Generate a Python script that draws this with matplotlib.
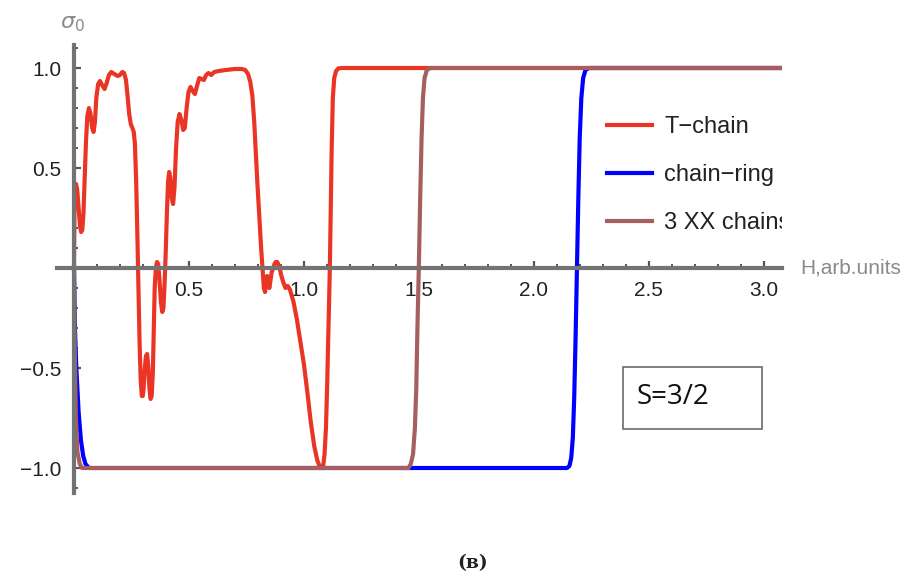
import matplotlib
matplotlib.use("Agg")
import matplotlib.pyplot as plt
from matplotlib.patches import Rectangle
from matplotlib.ticker import FixedLocator, MultipleLocator

# ---- data: field H (arb. units) and sigma_0 for each system ----
t_chain_h = [0.0, 0.002, 0.005, 0.009, 0.014, 0.02, 0.026, 0.031, 0.036, 0.041, 0.046,
             0.052, 0.058, 0.065, 0.072, 0.079, 0.085, 0.091, 0.097, 0.105, 0.113,
             0.122, 0.133, 0.142, 0.152, 0.162, 0.175, 0.19, 0.2, 0.21, 0.218, 0.226,
             0.233, 0.24, 0.247, 0.254, 0.26, 0.265, 0.27, 0.275, 0.28, 0.285, 0.29,
             0.295, 0.299, 0.303, 0.308, 0.313, 0.318, 0.323, 0.328, 0.333, 0.338,
             0.343, 0.347, 0.351, 0.356, 0.361, 0.366, 0.372, 0.378, 0.384, 0.389,
             0.394, 0.399, 0.404, 0.409, 0.414, 0.419, 0.425, 0.431, 0.437, 0.444,
             0.451, 0.459, 0.467, 0.475, 0.482, 0.49, 0.498, 0.507, 0.516, 0.526,
             0.535, 0.545, 0.555, 0.565, 0.575, 0.585, 0.597, 0.61, 0.63, 0.66, 0.7,
             0.73, 0.745, 0.757, 0.767, 0.776, 0.784, 0.791, 0.798, 0.806, 0.814,
             0.821, 0.826, 0.831, 0.836, 0.84, 0.845, 0.85, 0.855, 0.86, 0.866, 0.872,
             0.878, 0.884, 0.89, 0.895, 0.9, 0.91, 0.92, 0.93, 0.94, 0.955, 0.97,
             0.985, 1.0, 1.015, 1.03, 1.045, 1.058, 1.068, 1.077, 1.084, 1.09, 1.096,
             1.101, 1.105, 1.109, 1.113, 1.117, 1.121, 1.126, 1.132, 1.14, 1.15, 1.165,
             3.1]
t_chain_s = [0.0, 0.3, 0.41, 0.42, 0.39, 0.3, 0.21, 0.18, 0.19, 0.27, 0.43,
             0.63, 0.76, 0.8, 0.77, 0.7, 0.68, 0.73, 0.85, 0.92, 0.935,
             0.915, 0.895, 0.925, 0.965, 0.98, 0.97, 0.96, 0.965, 0.98, 0.975, 0.94,
             0.86, 0.77, 0.72, 0.7, 0.68, 0.62, 0.45, 0.2, -0.08, -0.36, -0.56,
             -0.64, -0.64, -0.6, -0.5, -0.44, -0.43, -0.49, -0.6, -0.655, -0.64,
             -0.52, -0.3, -0.1, 0.0, 0.03, 0.02, -0.06, -0.17, -0.22, -0.2,
             -0.08, 0.08, 0.27, 0.43, 0.48, 0.45, 0.35, 0.32, 0.4, 0.6,
             0.73, 0.77, 0.74, 0.69, 0.7, 0.8, 0.88, 0.905, 0.885, 0.87,
             0.91, 0.95, 0.945, 0.94, 0.965, 0.975, 0.965, 0.98, 0.985, 0.99, 0.995,
             0.995, 0.99, 0.97, 0.93, 0.86, 0.73, 0.57, 0.42, 0.26, 0.1,
             -0.02, -0.1, -0.12, -0.07, -0.04, -0.08, -0.1, -0.06, -0.02, -0.005, 0.02,
             0.03, 0.03, 0.015, 0.0, -0.03, -0.07, -0.1, -0.09, -0.11, -0.17, -0.26,
             -0.37, -0.48, -0.62, -0.77, -0.89, -0.96, -0.99, -1.0, -0.99, -0.93, -0.8,
             -0.6, -0.4, -0.2, 0.0, 0.3, 0.6, 0.85, 0.95, 0.985, 0.998, 1.0,
             1.0]

chain_ring_h = [0.0, 0.004, 0.01, 0.02, 0.03, 0.04, 0.05, 0.065, 2.145, 2.155, 2.163,
                2.17, 2.176, 2.182, 2.188, 2.194, 2.2, 2.207, 2.215, 2.225, 2.24, 3.1]
chain_ring_s = [0.0, -0.3, -0.5, -0.72, -0.86, -0.94, -0.98, -1.0, -1.0, -0.99, -0.95,
                -0.85, -0.65, -0.35, 0.0, 0.35, 0.65, 0.85, 0.95, 0.99, 1.0, 1.0]

xx3_h = [0.0, 0.003, 0.008, 0.015, 0.025, 0.035, 1.455, 1.465, 1.475, 1.483, 1.489,
         1.494, 1.5, 1.506, 1.512, 1.518, 1.525, 1.535, 1.55, 3.1]
xx3_s = [0.0, -0.4, -0.75, -0.92, -0.98, -1.0, -1.0, -0.98, -0.93, -0.8, -0.6,
         -0.3, 0.0, 0.35, 0.65, 0.85, 0.95, 0.99, 1.0, 1.0]

series_labels = ["T\u2212chain", "chain\u2212ring", "3 XX chains"]
series_colors = ["#EA3526", "#0000FF", "#A65F5F"]

x_ticks = [0.5, 1.0, 1.5, 2.0, 2.5, 3.0]
y_ticks = [-1.0, -0.5, 0.5, 1.0]

# ---- figure ----
plt.rcParams["font.family"] = ["Liberation Sans", "DejaVu Sans"]
axis_gray = "#737373"

fig = plt.figure(figsize=(9.18, 5.79), dpi=100)
ax = fig.add_axes([57 / 918, 1 - 493 / 579, 725 / 918, 448 / 579])
ax.set_xlim(-0.074, 3.08)
ax.set_ylim(-1.125, 1.115)

lw = 3.0
ax.plot(t_chain_h, t_chain_s, color=series_colors[0], lw=lw, label=series_labels[0],
        solid_joinstyle="round", zorder=3)
ax.plot(chain_ring_h, chain_ring_s, color=series_colors[1], lw=lw, label=series_labels[1],
        solid_joinstyle="round", zorder=4)
ax.plot(xx3_h, xx3_s, color=series_colors[2], lw=lw, label=series_labels[2],
        solid_joinstyle="round", zorder=5)

# axes through the origin
for side in ("top", "right"):
    ax.spines[side].set_visible(False)
ax.spines["left"].set_position(("data", 0))
ax.spines["bottom"].set_position(("data", 0))
for side in ("left", "bottom"):
    ax.spines[side].set_color(axis_gray)
    ax.spines[side].set_linewidth(3.0)
    ax.spines[side].set_zorder(6)

ax.xaxis.set_major_locator(FixedLocator(x_ticks))
ax.yaxis.set_major_locator(FixedLocator(y_ticks))
ax.xaxis.set_minor_locator(MultipleLocator(0.1))
ax.yaxis.set_minor_locator(MultipleLocator(0.1))
ax.set_xticklabels([f"{v:.1f}" for v in x_ticks])
ax.set_yticklabels([f"{v:.1f}".replace("-", "\u2212") for v in y_ticks])
ax.tick_params(which="major", direction="in", length=5, width=1.6, color="#555555",
               labelsize=15, labelcolor="#222222", pad=9)
ax.tick_params(which="minor", direction="in", length=3, width=1.4, color="#555555")
ax.tick_params(axis="x", which="both", top=False)
ax.tick_params(axis="y", which="both", right=False)
ax.patch.set_visible(False)

# axis labels
fig.text(72 / 918, 1 - 24 / 579, r"$\sigma_0$", color="#8a8a8a", fontsize=16,
         ha="center", va="center")
fig.text(800 / 918, 1 - 268 / 579, "H,arb.units", color="#8a8a8a", fontsize=15,
         ha="left", va="center")

# legend, clipped by the plot frame
leg = ax.legend(loc="upper left", bbox_to_anchor=((598 - 57) / 725, (493 - 107) / 448),
                frameon=False, fontsize=17, handlelength=1.9, handletextpad=0.5,
                labelspacing=1.1, borderaxespad=0)
for line in leg.get_lines():
    line.set_linewidth(3.0)
for txt in leg.get_texts():
    txt.set_color("#222222")
    txt.set_clip_box(ax.bbox)
    txt.set_clip_on(True)

# spin label box
box_x0, box_x1 = (623 - 74) / 230, (762 - 74) / 230
box_y0, box_y1 = (268 - 429) / 200, (268 - 367) / 200
ax.add_patch(Rectangle((box_x0, box_y0), box_x1 - box_x0, box_y1 - box_y0,
                       fill=False, edgecolor="#6b6b6b", lw=1.2, zorder=7))
ax.text((637 - 74) / 230, (268 - 397) / 200, "S=3/2", fontsize=20,
        family=["Open Sans", "DejaVu Sans"],
        ha="left", va="center", color="#111111", zorder=8)

# panel caption
fig.text(473 / 918, 1 - 563 / 579, "(\u0432)", fontsize=13.5, family="DejaVu Serif",
         fontweight="bold", ha="center", va="center", color="#222222")

fig.savefig("out.png", dpi=100)
